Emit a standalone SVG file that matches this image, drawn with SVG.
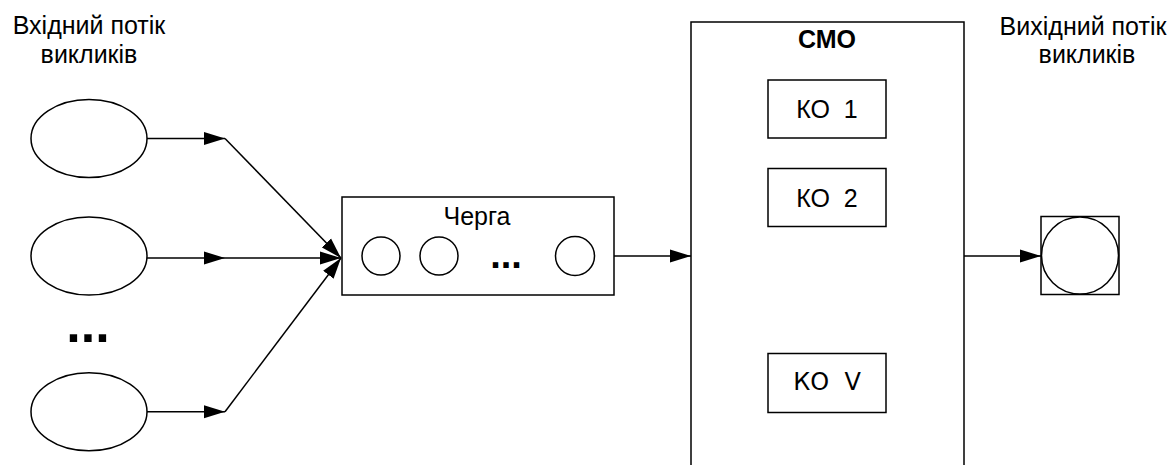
<svg xmlns="http://www.w3.org/2000/svg" width="1176" height="465" viewBox="0 0 1176 465">
<defs>
<marker id="ah" markerWidth="21" markerHeight="14" refX="21" refY="7" orient="auto" markerUnits="userSpaceOnUse">
<path d="M0,0.5 L21,7 L0,13.5 Z" fill="#000"/>
</marker>
<style>
.s{fill:#fff;stroke:#000;stroke-width:1.5}
.c{fill:none;stroke:#000;stroke-width:1.5}
.t{font-family:"Liberation Sans",Arial,sans-serif;fill:#000;text-anchor:middle;font-size:25px}
.d{font-family:"DejaVu Sans",sans-serif;fill:#000;text-anchor:middle}
</style>
</defs>
<rect width="1176" height="465" fill="#fff"/>
<g id="input-label">
<text class="t" x="89" y="34">Вхідний потік</text>
<text class="t" x="89" y="63">викликів</text>
</g>
<g id="source1"><ellipse class="s" cx="89" cy="138.5" rx="58" ry="39"/></g>
<g id="source2"><ellipse class="s" cx="89" cy="256" rx="58" ry="39"/></g>
<g id="source-dots"><text class="t" x="88" y="342" style="font-size:52px;font-weight:bold">...</text></g>
<g id="source3"><ellipse class="s" cx="89" cy="411.7" rx="58" ry="39"/></g>
<g id="queue">
<rect class="s" x="342" y="197" width="272" height="98"/>
<text class="t" x="477" y="225">Черга</text>
<circle class="s" cx="381" cy="256" r="19"/>
<circle class="s" cx="439" cy="256" r="19"/>
<text class="t" x="506" y="267.5" style="font-size:38px;font-weight:bold">...</text>
<circle class="s" cx="575" cy="256" r="19.5"/>
</g>
<g id="smo">
<rect class="s" x="691" y="22" width="273" height="460"/>
<text class="t" x="827" y="48" font-weight="bold">СМО</text>
</g>
<g id="ko1">
<rect class="s" x="768" y="80" width="118" height="58"/>
<text class="t" x="827" y="118" xml:space="preserve">КО  1</text>
</g>
<g id="ko2">
<rect class="s" x="768" y="168.5" width="118" height="58"/>
<text class="t" x="827" y="206.5" xml:space="preserve">КО  2</text>
</g>
<g id="kov">
<rect class="s" x="768" y="353.5" width="118" height="59"/>
<text class="d" x="827" y="390" font-size="24" xml:space="preserve">КО  V</text>
</g>
<g id="sink">
<rect class="s" x="1041" y="216.5" width="78" height="78"/>
<circle class="s" cx="1080" cy="255.5" r="38.5"/>
</g>
<g id="output-label">
<text class="t" x="1083" y="35">Вихідний потік</text>
<text class="t" x="1087" y="63">викликів</text>
</g>
<g id="connectors">
<line class="c" x1="147" y1="138.5" x2="225" y2="138.5" marker-end="url(#ah)"/>
<line class="c" x1="225" y1="138.5" x2="341" y2="258" marker-end="url(#ah)"/>
<line class="c" x1="147" y1="258" x2="225" y2="258" marker-end="url(#ah)"/>
<line class="c" x1="225" y1="258" x2="341" y2="258" marker-end="url(#ah)"/>
<line class="c" x1="147" y1="411.7" x2="225" y2="411.7" marker-end="url(#ah)"/>
<line class="c" x1="225" y1="411.7" x2="341" y2="258" marker-end="url(#ah)"/>
<line class="c" x1="614" y1="256" x2="691" y2="256" marker-end="url(#ah)"/>
<line class="c" x1="964" y1="256" x2="1041" y2="256" marker-end="url(#ah)"/>
</g>
</svg>
